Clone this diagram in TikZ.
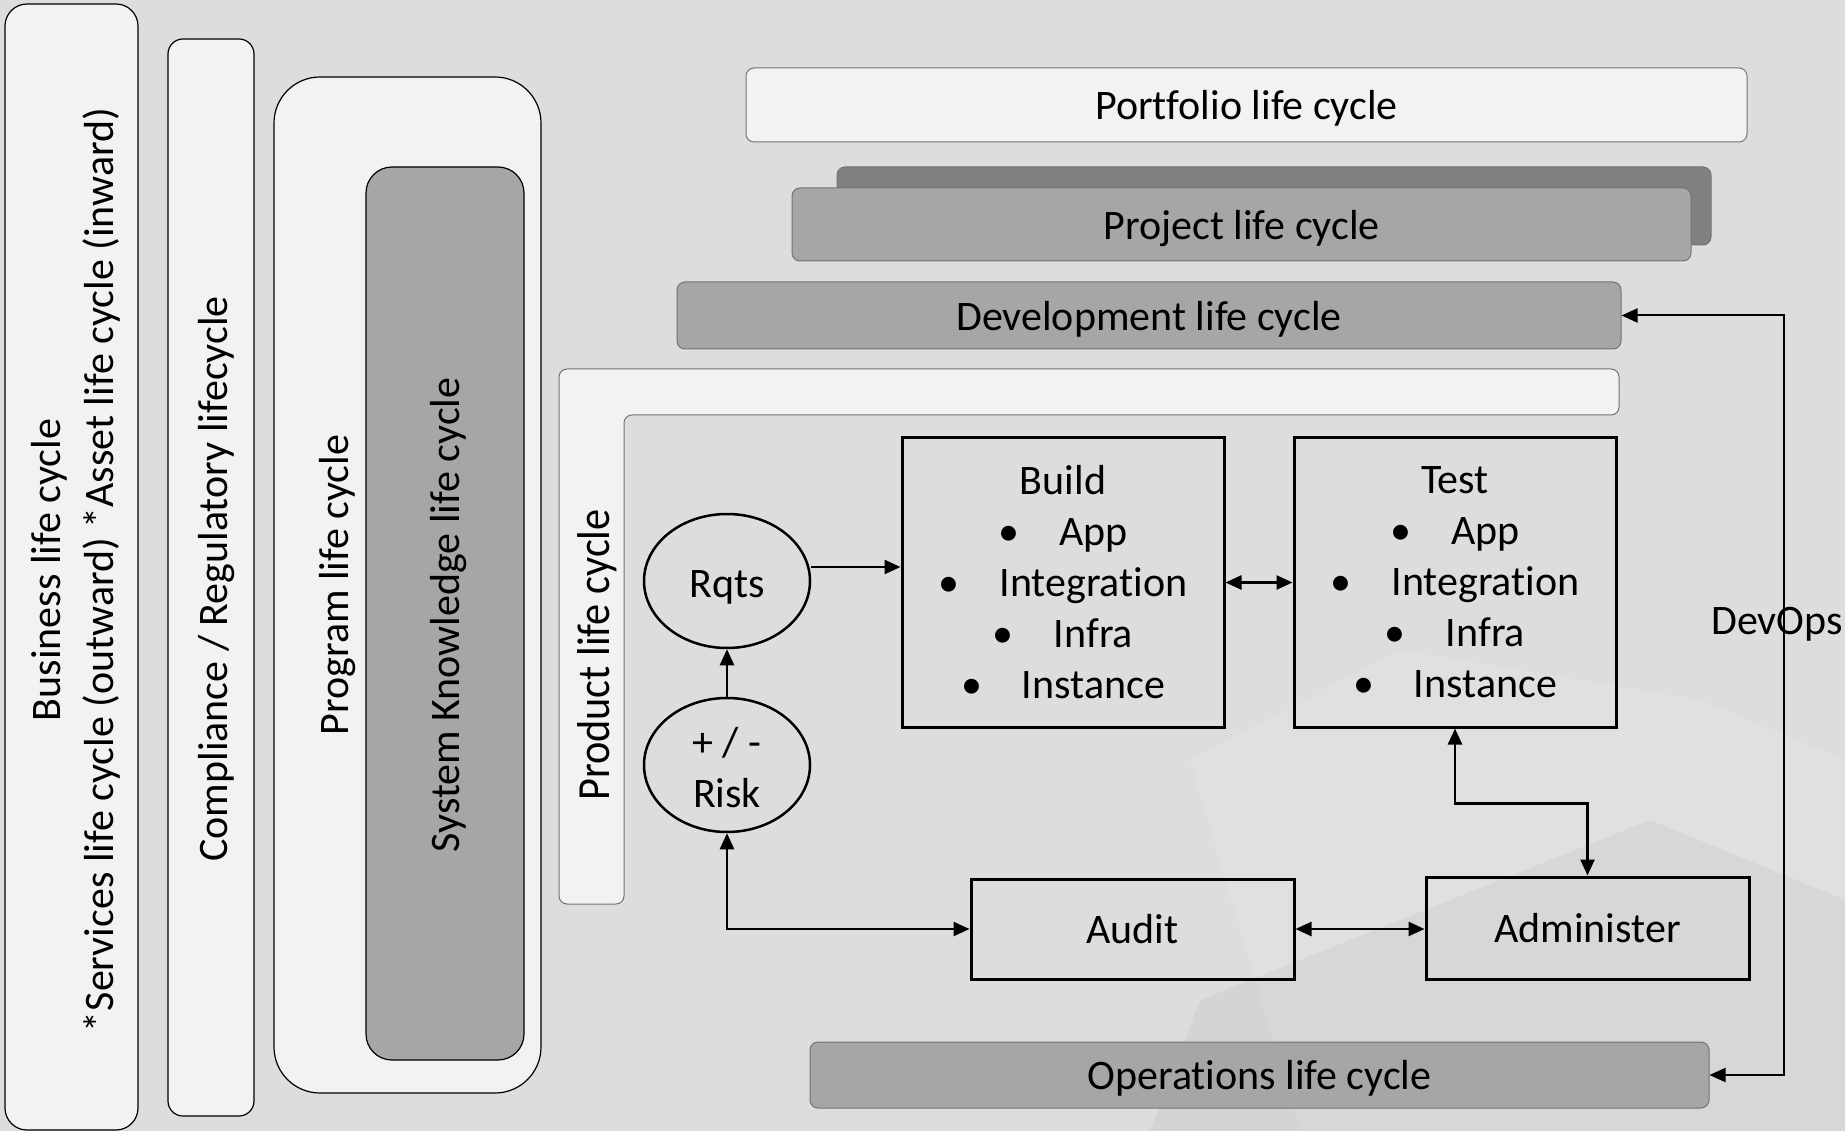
\documentclass[tikz,border=0pt]{standalone}
\usepackage{fontspec}
\setmainfont{Carlito}[Ligatures={NoCommon}]
\newfontfamily\prodfont[FakeStretch=0.92,Ligatures={NoCommon}]{Carlito}
\usetikzlibrary{arrows.meta,shapes.geometric,calc}
\definecolor{bgc}{HTML}{DDDDDD}
\definecolor{lightf}{HTML}{F2F2F2}
\definecolor{midf}{HTML}{A6A6A6}
\definecolor{darkf}{HTML}{808080}
\tikzset{
  txt/.style={font=\fontsize{42pt}{51pt}\selectfont, text=black},
  vbox/.style={draw=black, line width=1.2pt, inner sep=0pt, txt},
  hbar/.style={draw=black!55, line width=1pt, rounded corners=8pt, inner sep=0pt, txt, text depth=0pt},
  procbox/.style={draw=black, line width=3pt, inner sep=0pt, txt, align=center},
  oval/.style={ellipse, draw=black, line width=2.5pt, inner sep=0pt, txt, align=center},
  conn/.style={line width=2.5pt, -{Triangle[length=16pt,width=14pt]}},
  dconn/.style={line width=2.5pt, {Triangle[length=16pt,width=14pt]}-{Triangle[length=16pt,width=14pt]}},
}
\newcommand{\bl}[1]{\textbullet\hspace{40pt}#1}
\begin{document}
\begin{tikzpicture}[x=1pt,y=-1pt]
\useasboundingbox (0,0) rectangle (1845,1131);
\fill[bgc] (0,0) rectangle (1845,1131);
% faint background photo hints
\fill[white, opacity=0.10] (1190,760) -- (1400,650) -- (1700,700) -- (1845,760) -- (1845,1131) -- (1300,1131) -- cycle;
\fill[black, opacity=0.04] (1200,1000) -- (1650,820) -- (1845,900) -- (1845,1131) -- (1150,1131) -- cycle;

% vertical containers
\node[vbox, fill=lightf, rounded corners=22pt, minimum width=133pt, minimum height=1126pt] (business) at (71.5,567) {};
\node[txt, rotate=90, align=center] (businesst) at (76,570) {Business life cycle\\[2pt]*Services life cycle (outward) *Asset life cycle (inward)};
\node[vbox, fill=lightf, rounded corners=15pt, minimum width=86pt, minimum height=1077pt] (compliance) at (211,577.5) {};
\node[txt, rotate=90] (compliancet) at (216.5,579) {Compliance / Regulatory lifecycle};
\node[vbox, fill=lightf, rounded corners=46pt, minimum width=267pt, minimum height=1016pt] (program) at (407.5,585) {};
\node[txt, rotate=90] (programt) at (337.5,585) {Program life cycle};
\node[vbox, fill=midf, rounded corners=26pt, minimum width=158pt, minimum height=893pt] (sk) at (445,613.5) {};
\node[txt, rotate=90] (skt) at (448.5,615) {System Knowledge life cycle};

% horizontal bars
\node[hbar, fill=lightf, minimum width=1001pt, minimum height=74pt] (portfolio) at (1246.5,105) {Portfolio life cycle};
\node[hbar, fill=darkf, minimum width=874pt, minimum height=78pt] (projectback) at (1274,206) {};
\node[hbar, fill=midf, minimum width=899pt, minimum height=73pt] (project) at (1241.5,224.5) {Project life cycle};
\node[hbar, fill=midf, minimum width=944pt, minimum height=67pt] (development) at (1149,315.5) {Development life cycle};
\draw[draw=black!55, line width=1pt, fill=lightf, rounded corners=8pt] (559,904) -- (559,369) -- (1619,369) -- (1619,415) -- (624,415) -- (624,904) -- cycle;
\node[txt, rotate=90, font=\prodfont\fontsize{46pt}{51pt}\selectfont] (productt) at (597,655) {Product life cycle};
\node[hbar, fill=midf, minimum width=899pt, minimum height=66pt] (operations) at (1259.5,1075) {Operations life cycle};

% process nodes
\node[oval, minimum width=166pt, minimum height=134pt] (rqts) at (727,581) {};
\node[txt] (rqtst) at (727,587) {Rqts};
\node[oval, minimum width=166pt, minimum height=134pt] (risk) at (727,765) {};
\node[txt, align=center] (riskt) at (727,768) {+ / -\\Risk};
\node[procbox, minimum width=322pt, minimum height=289pt] (build) at (1063,582.5) {Build\\\bl{App}\\\bl{Integration}\\\bl{Infra}\\\bl{Instance}};
\node[procbox, minimum width=322pt, minimum height=289pt] (test) at (1455,582.5) {Test\\\bl{App}\\\bl{Integration}\\\bl{Infra}\\\bl{Instance}};
\node[procbox, minimum width=323pt, minimum height=100pt, text depth=0pt] (audit) at (1132.5,929) {Audit};
\node[procbox, minimum width=323pt, minimum height=102pt, text depth=0pt] (admin) at (1587.5,928) {Administer};

% connectors
\draw[conn] ([yshift=14pt]rqts.east) -- ([yshift=14pt]rqts.east -| build.west);
\draw[dconn] (build.east) -- (test.west);
\draw[conn] (risk.north) -- (rqts.south);
\draw[dconn] (risk.south) |- (audit.west);
\draw[dconn] (audit.east) -- (audit.east -| admin.west);
\draw[dconn] (test.south) -- ++(0,75) -| (admin.north);
\coordinate (dv) at (1784,0);
\draw[dconn, line width=2pt] (development.east) -- (development.east -| dv) -- (operations.east -| dv) -- (operations.east);
\node[txt, anchor=west, inner sep=0pt] (devops) at (1711,624) {DevOps};
\end{tikzpicture}
\end{document}
